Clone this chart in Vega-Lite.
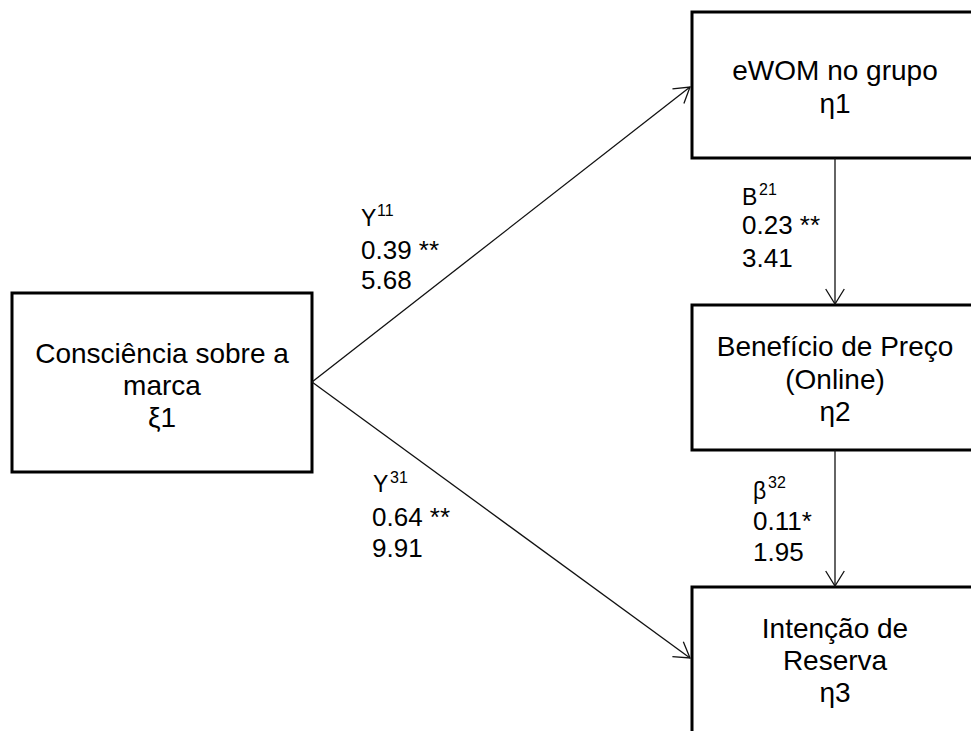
{
  "$schema": "https://vega.github.io/schema/vega-lite/v6.json",
  "width": 971,
  "height": 731,
  "autosize": {"type": "none"},
  "padding": 0,
  "background": "white",
  "config": {"view": {"stroke": null}, "axis": {"disable": true}, "legend": {"disable": true}},
  "datasets": {
    "boxes": [
      {"node": "Consciência", "x": 12, "x2": 312, "y": 293, "y2": 472},
      {"node": "eWOM", "x": 692, "x2": 978, "y": 12, "y2": 158},
      {"node": "Benefício", "x": 692, "x2": 978, "y": 305, "y2": 450},
      {"node": "Intenção", "x": 692, "x2": 978, "y": 587, "y2": 745}
    ],
    "paths": [
      {"path": "γ11", "x": 312, "y": 382, "x2": 690, "y2": 87},
      {"path": "γ31", "x": 312, "y": 382, "x2": 690, "y2": 658},
      {"path": "β21", "x": 835, "y": 158, "x2": 835, "y2": 304},
      {"path": "β32", "x": 835, "y": 450, "x2": 835, "y2": 586}
    ],
    "heads": [
      {"path": "γ11", "x": 690, "y": 87, "angle": 322},
      {"path": "γ31", "x": 690, "y": 658, "angle": 36},
      {"path": "β21", "x": 835, "y": 304, "angle": 90},
      {"path": "β32", "x": 835, "y": 586, "angle": 90}
    ],
    "boxText": [
      {"t": "Consciência sobre a", "x": 162, "y": 355},
      {"t": "marca", "x": 162, "y": 387},
      {"t": "ξ1", "x": 162, "y": 419},
      {"t": "eWOM no grupo", "x": 835, "y": 72},
      {"t": "η1", "x": 835, "y": 105},
      {"t": "Benefício de Preço", "x": 835, "y": 348},
      {"t": "(Online)", "x": 835, "y": 381},
      {"t": "η2", "x": 835, "y": 413},
      {"t": "Intenção de", "x": 835, "y": 630},
      {"t": "Reserva", "x": 835, "y": 662},
      {"t": "η3", "x": 835, "y": 694}
    ],
    "labels": [
      {"t": "0.39 **", "x": 361, "y": 251},
      {"t": "5.68", "x": 361, "y": 281},
      {"t": "0.64 **", "x": 372, "y": 518},
      {"t": "9.91", "x": 372, "y": 549},
      {"t": "0.23 **", "x": 742, "y": 226},
      {"t": "3.41", "x": 742, "y": 259},
      {"t": "0.11*", "x": 753, "y": 522},
      {"t": "1.95", "x": 753, "y": 553}
    ],
    "letters": [
      {"t": "Y", "x": 361, "y": 219},
      {"t": "Y", "x": 373, "y": 485},
      {"t": "B", "x": 742, "y": 198},
      {"t": "β", "x": 753, "y": 492}
    ],
    "sups": [
      {"t": "11", "x": 377, "y": 211},
      {"t": "31", "x": 390, "y": 478},
      {"t": "21", "x": 759, "y": 190},
      {"t": "32", "x": 768, "y": 483}
    ]
  },
  "layer": [
    {
      "data": {"name": "boxes"},
      "mark": {"type": "rect", "fill": "white", "stroke": "black", "strokeWidth": 3, "clip": true},
      "encoding": {
        "x": {"field": "x", "type": "quantitative", "scale": {"domain": [0, 971], "range": [0, 971], "zero": false, "nice": false}},
        "x2": {"field": "x2"},
        "y": {"field": "y", "type": "quantitative", "scale": {"domain": [0, 731], "range": [0, 731], "zero": false, "nice": false}},
        "y2": {"field": "y2"}
      }
    },
    {
      "data": {"name": "paths"},
      "mark": {"type": "rule", "stroke": "#111", "strokeWidth": 1.3},
      "encoding": {
        "x": {"field": "x", "type": "quantitative"},
        "x2": {"field": "x2"},
        "y": {"field": "y", "type": "quantitative"},
        "y2": {"field": "y2"}
      }
    },
    {
      "data": {"name": "heads"},
      "mark": {"type": "point", "shape": "M -1 -0.62 L 0 0 L -1 0.62", "filled": false, "stroke": "#111", "strokeWidth": 1.3, "size": 900, "opacity": 1},
      "encoding": {
        "x": {"field": "x", "type": "quantitative"},
        "y": {"field": "y", "type": "quantitative"},
        "angle": {"field": "angle", "type": "quantitative", "scale": null}
      }
    },
    {
      "data": {"name": "boxText"},
      "mark": {"type": "text", "font": "Liberation Sans", "fontSize": 28, "align": "center", "baseline": "middle", "color": "black"},
      "encoding": {
        "x": {"field": "x", "type": "quantitative"},
        "y": {"field": "y", "type": "quantitative"},
        "text": {"field": "t"}
      }
    },
    {
      "data": {"name": "labels"},
      "mark": {"type": "text", "font": "Liberation Sans", "fontSize": 26, "align": "left", "baseline": "middle", "color": "black"},
      "encoding": {
        "x": {"field": "x", "type": "quantitative"},
        "y": {"field": "y", "type": "quantitative"},
        "text": {"field": "t"}
      }
    },
    {
      "data": {"name": "letters"},
      "mark": {"type": "text", "font": "Liberation Sans", "fontSize": 23, "align": "left", "baseline": "middle", "color": "black"},
      "encoding": {
        "x": {"field": "x", "type": "quantitative"},
        "y": {"field": "y", "type": "quantitative"},
        "text": {"field": "t"}
      }
    },
    {
      "data": {"name": "sups"},
      "mark": {"type": "text", "font": "Liberation Sans", "fontSize": 16, "align": "left", "baseline": "middle", "color": "black"},
      "encoding": {
        "x": {"field": "x", "type": "quantitative"},
        "y": {"field": "y", "type": "quantitative"},
        "text": {"field": "t"}
      }
    }
  ]
}
